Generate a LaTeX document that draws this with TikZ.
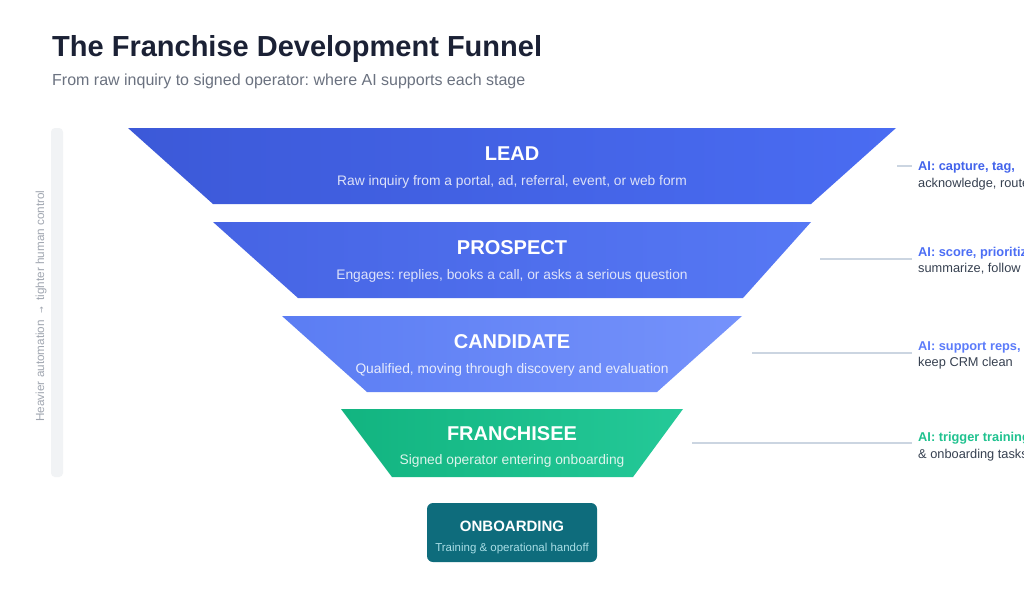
\documentclass[tikz,border=0pt]{standalone}
\usepackage{fontspec}
\setmainfont{Liberation Sans}
\newfontfamily\arrowfont{DejaVu Sans}
\frenchspacing
\definecolor{titlec}{HTML}{1B2135}
\definecolor{subc}{HTML}{6B7280}
\definecolor{leadL}{HTML}{3C59D8}
\definecolor{leadR}{HTML}{4A6CF2}
\definecolor{prosL}{HTML}{4664E4}
\definecolor{prosR}{HTML}{5678F4}
\definecolor{candL}{HTML}{5B7DF3}
\definecolor{candR}{HTML}{7592FB}
\definecolor{franL}{HTML}{12B480}
\definecolor{franR}{HTML}{24C998}
\definecolor{onb}{HTML}{0E6C7C}
\definecolor{onbsub}{HTML}{A9DEE6}
\definecolor{aiA}{HTML}{4263EB}
\definecolor{aiB}{HTML}{4C6EF5}
\definecolor{aiC}{HTML}{5C7CFA}
\definecolor{aiD}{HTML}{1FC28F}
\definecolor{bodyc}{HTML}{374151}
\definecolor{barc}{HTML}{F1F3F5}
\definecolor{vtext}{HTML}{A0A6B0}
\definecolor{leader}{HTML}{CBD5E1}
\tikzset{
  stagetitle/.style={text=white,font=\fontsize{20}{24}\selectfont\bfseries,anchor=base,inner sep=0pt},
  stagesub/.style={font=\fontsize{13.8}{16}\selectfont,anchor=base,inner sep=0pt},
  aihead/.style={font=\fontsize{12.8}{15}\selectfont\bfseries,anchor=base west,inner sep=0pt},
  aibody/.style={font=\fontsize{12.8}{15}\selectfont,text=bodyc,anchor=base west,inner sep=0pt},
  leaderline/.style={draw=leader,line width=1.3pt}
}
\begin{document}
\begin{tikzpicture}[x=1pt,y=-1pt]
\useasboundingbox (0,0) rectangle (1024,614);
\clip (0,0) rectangle (1024,614);
\fill[white] (0,0) rectangle (1024,614);

% title
\node[anchor=base west,inner sep=0pt,text=titlec,font=\fontsize{29}{34}\selectfont\bfseries] (title) at (52,56) {The Franchise Development Funnel};
\node[anchor=base west,inner sep=0pt,text=subc,font=\fontsize{16}{19}\selectfont] (subtitle) at (52,85) {From raw inquiry to signed operator: where AI supports each stage};

% side bar
\fill[barc,rounded corners=4pt] (51,128) rectangle (63,477);
\node[rotate=90,text=vtext,font=\fontsize{11.7}{14}\selectfont,inner sep=0pt] (vlabel) at (41,306) {Heavier automation\ \ {\arrowfont\fontsize{8}{10}\selectfont →}\ \ tighter human control};

% funnel stages
\shade[left color=leadL,right color=leadR] (128,128) -- (896,128) -- (811,204) -- (213,204) -- cycle;
\shade[left color=prosL,right color=prosR] (213,222) -- (811,222) -- (743,298) -- (298,298) -- cycle;
\shade[left color=candL,right color=candR] (282,316) -- (742,316) -- (657,392) -- (367,392) -- cycle;
\shade[left color=franL,right color=franR] (341,409) -- (683,409) -- (633,477) -- (392,477) -- cycle;

\node[stagetitle] (lead) at (512,160) {LEAD};
\node[stagesub,text=white!82!leadL] (leadsub) at (512,185) {Raw inquiry from a portal, ad, referral, event, or web form};
\node[stagetitle] (prospect) at (512,254) {PROSPECT};
\node[stagesub,text=white!82!prosL] (prospectsub) at (512,279) {Engages: replies, books a call, or asks a serious question};
\node[stagetitle] (candidate) at (512,348) {CANDIDATE};
\node[stagesub,text=white!85!candL] (candidatesub) at (512,373) {Qualified, moving through discovery and evaluation};
\node[stagetitle] (franchisee) at (512,440) {FRANCHISEE};
\node[stagesub,text=white!85!franL] (franchiseesub) at (512,464) {Signed operator entering onboarding};

% onboarding box
\fill[onb,rounded corners=6pt] (427,503) rectangle (597,562);
\node[anchor=base,inner sep=0pt,text=white,font=\fontsize{15}{18}\selectfont\bfseries] (onb) at (512,531) {ONBOARDING};
\node[anchor=base,inner sep=0pt,text=onbsub,font=\fontsize{11.5}{14}\selectfont] (onbsub) at (512,551) {Training \& operational handoff};

% AI annotations
\coordinate (lA1) at (897,166); \coordinate (lA2) at (912,166);
\coordinate (lB1) at (820,259); \coordinate (lB2) at (912,259);
\coordinate (lC1) at (752,353); \coordinate (lC2) at (912,353);
\coordinate (lD1) at (692,443); \coordinate (lD2) at (912,443);
\draw[leaderline] (lA1) -- (lA2);
\draw[leaderline] (lB1) -- (lB2);
\draw[leaderline] (lC1) -- (lC2);
\draw[leaderline] (lD1) -- (lD2);

\node[aihead,text=aiA] (aiA) at (918,170.5) {AI: capture, tag,};
\node[aibody] (aiAb) at (918,187.5) {acknowledge, route};
\node[aihead,text=aiB] (aiB) at (918,256) {AI: score, prioritize,};
\node[aibody] (aiBb) at (918,272.5) {summarize, follow up};
\node[aihead,text=aiC] (aiC) at (918,350) {AI: support reps,};
\node[aibody] (aiCb) at (918,366) {keep CRM clean};
\node[aihead,text=aiD] (aiD) at (918,441) {AI: trigger training};
\node[aibody] (aiDb) at (918,458) {\& onboarding tasks};
\end{tikzpicture}
\end{document}
